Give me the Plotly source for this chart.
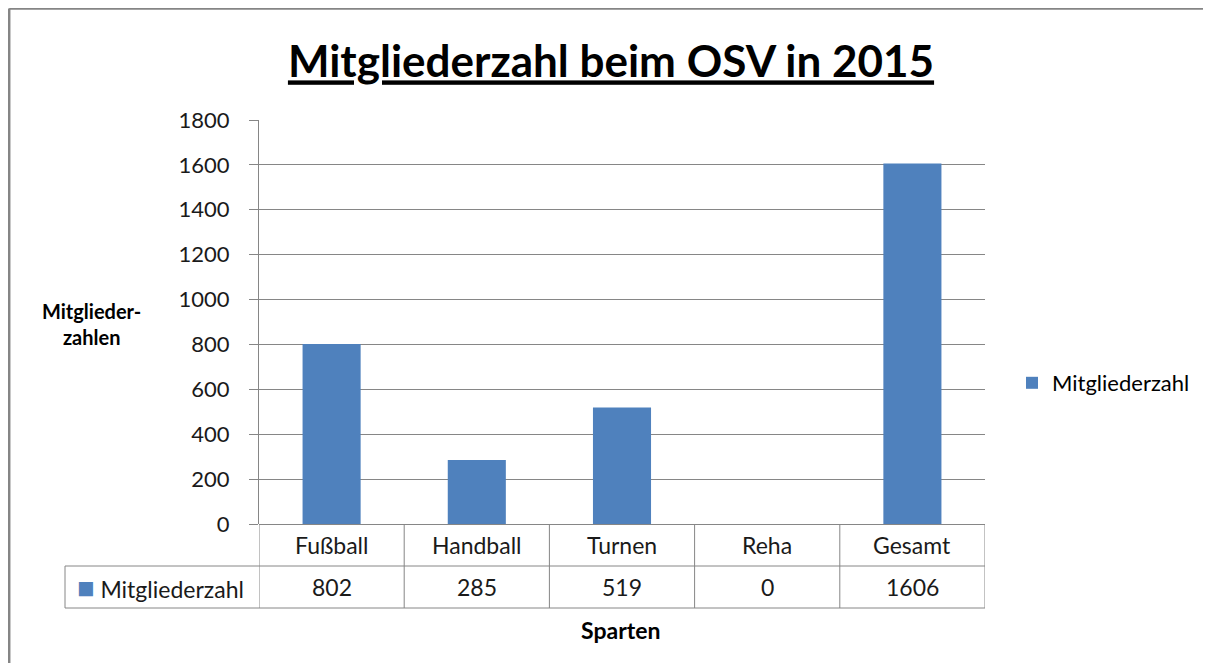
import plotly.graph_objects as go

# page body has an 8px margin; keep the figure inside the 1211x671 window
OFF = 8
W, H = 1211 - 2 * OFF, 671 - 2 * OFF

categories = ["Fußball", "Handball", "Turnen", "Reha", "Gesamt"]
values = [802, 285, 519, 0, 1606]
series_name = "Mitgliederzahl"
y_ticks = [0, 200, 400, 600, 800, 1000, 1200, 1400, 1600, 1800]

BLUE = "#4F81BD"
GRID = "#868686"
FONT = "Lato"
TXT = "#1a1a1a"


def px(x):
    return (x - OFF) / W


def py(y):
    return 1 - (y - OFF) / H


fig = go.Figure()
fig.add_trace(go.Bar(
    x=categories, y=values, name=series_name,
    marker=dict(color=BLUE, line=dict(width=0)), width=0.4,
))

shapes = []
line = dict(color=GRID, width=1)
frame = dict(color="#858585", width=2.5)
# outer frame: only its top and left edges fall inside the window
shapes.append(dict(type="line", xref="paper", yref="paper",
                   x0=px(9.2), x1=1.05, y0=py(8.5), y1=py(8.5), line=frame))
shapes.append(dict(type="line", xref="paper", yref="paper",
                   x0=px(9.2), x1=px(9.2), y0=py(8.5), y1=-0.05, line=frame))
# table horizontal lines
for yy in (566, 608):
    shapes.append(dict(type="line", xref="paper", yref="paper",
                       x0=px(65), x1=px(985), y0=py(yy), y1=py(yy), line=line))
# left border of the legend-key column
shapes.append(dict(type="line", xref="paper", yref="paper",
                   x0=px(65), x1=px(65), y0=py(566), y1=py(608), line=line))
# column separators on category boundaries
for i in range(len(categories) + 1):
    shapes.append(dict(type="line", xref="x", yref="paper",
                       x0=i - 0.5, x1=i - 0.5, y0=py(524), y1=py(608), line=line))

annotations = []
for i, (c, v) in enumerate(zip(categories, values)):
    annotations.append(dict(x=i, xref="x", y=py(545), yref="paper", text=c,
                            showarrow=False, font=dict(family=FONT, size=23, color=TXT),
                            xanchor="center", yanchor="middle"))
    annotations.append(dict(x=i, xref="x", y=py(587), yref="paper", text=str(v),
                            showarrow=False, font=dict(family=FONT, size=23, color=TXT),
                            xanchor="center", yanchor="middle"))
annotations.append(dict(x=px(160), xref="paper", y=py(586), yref="paper",
                        text=f'<span style="color:{BLUE};font-size:29px">■</span> {series_name}',
                        showarrow=False, font=dict(family=FONT, size=23, color=TXT),
                        xanchor="center", yanchor="middle"))
annotations.append(dict(x=px(91), xref="paper", y=py(324), yref="paper",
                        text="<b>Mitglieder-<br>zahlen</b>", showarrow=False, align="center",
                        font=dict(family=FONT, size=20, color="black"),
                        xanchor="center", yanchor="middle"))
annotations.append(dict(x=px(620), xref="paper", y=py(630), yref="paper",
                        text="<b>Sparten</b>", showarrow=False,
                        font=dict(family=FONT, size=23, color="black"),
                        xanchor="center", yanchor="middle"))

fig.update_layout(
    width=W, height=H,
    margin=dict(l=0, r=0, t=0, b=0, autoexpand=False),
    paper_bgcolor="white", plot_bgcolor="white",
    title=dict(text="<b><u>Mitgliederzahl beim OSV in 2015</u></b>",
               x=px(611), xanchor="center", y=py(62), yanchor="middle",
               font=dict(family=FONT, size=44, color="black")),
    xaxis=dict(domain=[px(259), px(985)], showticklabels=False, showgrid=False,
               zeroline=False, showline=False, ticks="",
               range=[-0.5, len(categories) - 0.5], automargin=False),
    yaxis=dict(domain=[py(524), py(120)], range=[0, 1800], tickvals=y_ticks,
               showgrid=True, gridcolor=GRID, gridwidth=1,
               zeroline=True, zerolinecolor=GRID, zerolinewidth=1,
               showline=True, linecolor=GRID, linewidth=1,
               ticks="outside", ticklen=9, tickcolor=GRID, ticklabelstandoff=15,
               tickfont=dict(family=FONT, size=22, color=TXT), automargin=False),
    showlegend=True,
    legend=dict(x=px(1012), xanchor="left", y=py(383), yanchor="middle",
                font=dict(family=FONT, size=22, color="black"),
                bgcolor="rgba(0,0,0,0)", itemwidth=30),
    shapes=shapes,
    annotations=annotations,
)

fig.write_html("out.html")
